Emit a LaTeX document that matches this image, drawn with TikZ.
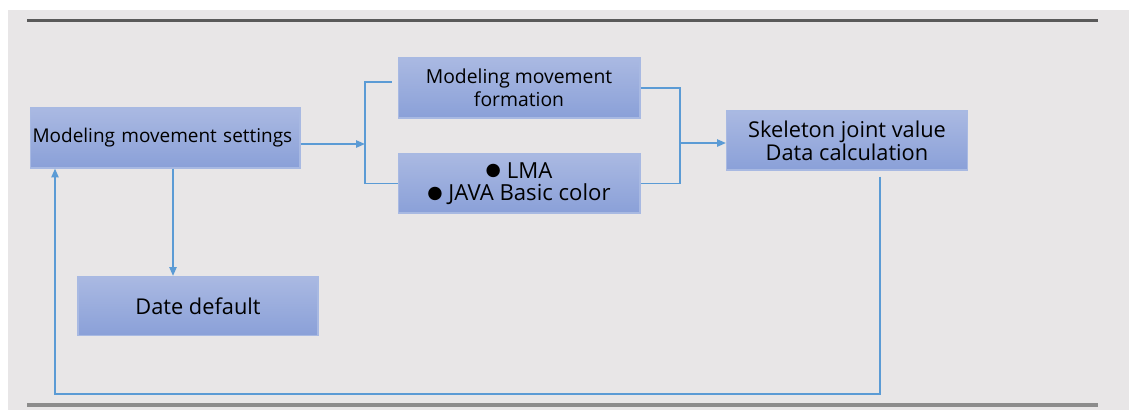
\documentclass[tikz,border=0pt]{standalone}
\usepackage{fontspec}
\setmainfont{Open Sans}
\newfontfamily\symfont{DejaVu Sans}
\usetikzlibrary{arrows.meta, positioning, calc}
\definecolor{pagegrey}{HTML}{E8E6E7}
\definecolor{rulegrey}{HTML}{5A5A5A}
\definecolor{footgrey}{HTML}{8C8C8C}
\definecolor{linkblue}{HTML}{5B9BD5}
\definecolor{boxtop}{HTML}{AAB9E2}
\definecolor{boxbottom}{HTML}{8AA0D8}
\definecolor{boxedge}{HTML}{A8B9E2}
\newcommand{\Dot}{\raisebox{0.2ex}{\symfont\fontsize{10}{10}\selectfont ●}}
\tikzset{
    block/.style={draw=boxedge, line width=0.6pt, top color=boxtop, bottom color=boxbottom,
        inner sep=0pt, align=center, font=\fontsize{12.4}{13}\selectfont},
    link/.style={draw=linkblue, line width=1.1pt},
    flow/.style={link, -{Triangle[length=5pt, width=4pt]}},
}

\begin{document}
\begin{tikzpicture}[x=0.02cm, y=-0.02cm]
    \useasboundingbox (0,0) rectangle (1129,410);
    \fill[pagegrey] (8,10) rectangle (1129,410);
    \draw[rulegrey, line width=1.4pt] (27,20.5) -- (1098,20.5);
    \draw[footgrey, line width=2.4pt] (27,405) -- (1098,405);

    \node[block, minimum width=5.4cm, minimum height=1.2cm, text width=5.3cm, align=left,
          font=\fontsize{10.8}{12}\selectfont] (settings) at (165,138) {Modeling movement settings\\[3pt]};
    \node[block, minimum width=4.8cm, minimum height=1.18cm] (datedef) at (198,306) {Date default};
    \node[block, minimum width=4.84cm, minimum height=1.2cm,
          font=\fontsize{11}{13}\selectfont] (formation) at (519,88) {Modeling movement\\formation};
    \node[block, minimum width=4.84cm, minimum height=1.18cm,
          font=\fontsize{12.6}{12.8}\selectfont] (lma) at (519,183.5) {\Dot\ LMA\\\Dot\ JAVA Basic color};
    \node[block, minimum width=4.82cm, minimum height=1.18cm] (skeleton) at (847,140.5) {Skeleton joint value\\Data calculation};

    \coordinate (split) at (365,144);
    \coordinate (splittop) at (365,82);
    \coordinate (splitbot) at (365,183.5);
    \coordinate (joint) at (680,143);
    \coordinate (jointtop) at (680,88);
    \coordinate (jointbot) at (680,183.5);
    \coordinate (loopR) at (880,394);
    \coordinate (loopL) at (55,394);

    \draw[flow] ($(settings.east)+(0,6)$) -- (split);
    \draw[link] ($(formation.west)+(-6,-6)$) -- (splittop) -- (splitbot) -- (lma.west);
    \draw[link] (formation.east) -- (jointtop) -- (jointbot) -- (lma.east);
    \draw[flow] (joint) -- (joint -| skeleton.west);

    \draw[flow] ($(settings.south)+(8,0)$) coordinate (drop) -- (drop |- datedef.north);
    \draw[flow] ($(skeleton.south)+(33,6)$) -- (loopR) -- (loopL) -- (loopL |- settings.south);
\end{tikzpicture}
\end{document}
